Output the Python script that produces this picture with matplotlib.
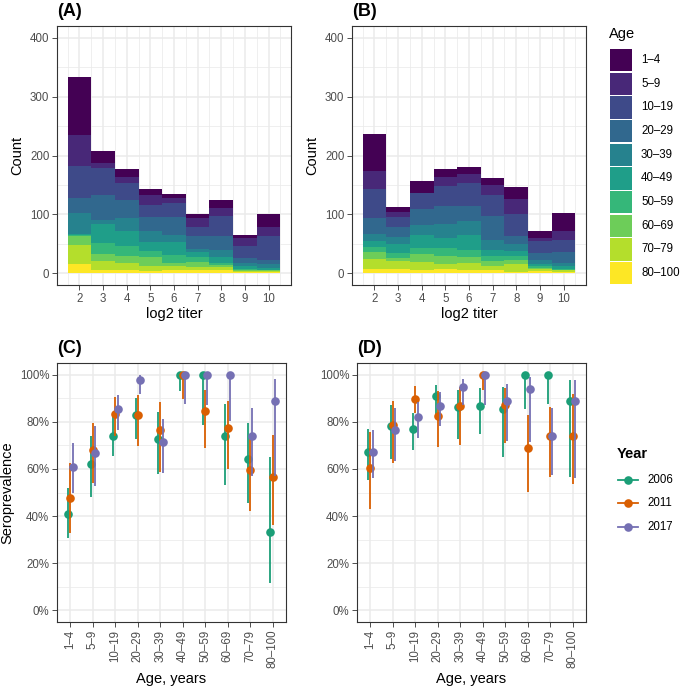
import matplotlib
matplotlib.use("Agg")
import matplotlib.pyplot as plt
from matplotlib.patches import Rectangle
from matplotlib.lines import Line2D
from matplotlib.ticker import FixedLocator
import numpy as np

plt.rcParams['font.family'] = ['Liberation Sans', 'DejaVu Sans']

# ---------------- data ----------------
titers = [2, 3, 4, 5, 6, 7, 8, 9, 10]
age_groups = ['1–4', '5–9', '10–19', '20–29', '30–39', '40–49', '50–59', '60–69', '70–79', '80–100']
age_colors = ['#440154', '#482878', '#3E4A89', '#31688E', '#26828E',
              '#1F9E89', '#35B779', '#6DCD59', '#B4DE2C', '#FDE725']

# counts per age group (rows) for each titer (columns)
counts_A = [
    [99, 20, 14, 10, 6, 6, 14, 5, 23],    # 1–4
    [52, 9, 9, 17, 9, 16, 12, 14, 15],    # 5–9
    [55, 45, 29, 20, 23, 15, 35, 20, 41], # 10–19
    [24, 42, 31, 24, 31, 21, 23, 9, 7],   # 20–29
    [36, 7, 23, 19, 12, 6, 12, 5, 6],     # 30–39
    [2, 32, 24, 16, 22, 8, 10, 5, 3],     # 40–49
    [2, 20, 17, 9, 14, 9, 4, 2, 1],       # 50–59
    [15, 12, 13, 16, 5, 8, 4, 1, 1],      # 60–69
    [32, 14, 12, 9, 7, 6, 5, 2, 2],       # 70–79
    [16, 6, 5, 3, 5, 5, 5, 2, 2],         # 80–100
]
counts_B = [
    [63, 8, 19, 13, 11, 12, 20, 11, 31],
    [31, 9, 1, 15, 16, 17, 25, 6, 15],
    [50, 16, 27, 35, 38, 35, 37, 20, 20],
    [26, 17, 27, 30, 27, 41, 15, 11, 18],
    [13, 12, 17, 24, 23, 18, 12, 7, 6],
    [9, 15, 22, 17, 26, 10, 7, 4, 4],
    [9, 9, 11, 14, 12, 9, 7, 3, 2],
    [11, 5, 13, 13, 10, 8, 8, 2, 1],
    [17, 14, 14, 8, 12, 6, 13, 4, 3],
    [8, 7, 5, 8, 5, 6, 2, 3, 2],
]

years = ['2006', '2011', '2017']
year_colors = ['#1B9E77', '#D95F02', '#7570B3']

# seroprevalence (%) and confidence limits, panel C
prevC_2006 = [41.0, 62.0, 74.2, 83.0, 72.7, 100, 100, 73.9, 64.3, 33.3]
lowC_2006 = [30.5, 48.0, 65.4, 72.7, 57.9, 93.0, 78.8, 53.2, 45.6, 11.7]
highC_2006 = [52.0, 74.2, 82.3, 90.1, 84.0, 100, 100, 87.7, 79.5, 65.0]
prevC_2011 = [47.5, 68.0, 83.2, 83.0, 76.7, 100, 84.7, 77.4, 59.5, 56.5]
lowC_2011 = [32.6, 54.0, 73.9, 69.6, 58.6, 89.8, 69.0, 60.0, 42.0, 36.4]
highC_2011 = [62.6, 79.5, 90.4, 91.5, 88.4, 100, 93.4, 88.7, 73.0, 74.6]
prevC_2017 = [61.0, 66.7, 85.5, 97.9, 71.3, 100, 100, 100, 74.2, 88.7]
lowC_2017 = [50.0, 52.7, 76.7, 92.0, 58.3, 87.6, 87.3, 80.2, 57.0, 57.0]
highC_2017 = [71.0, 78.4, 91.5, 100, 81.2, 100, 100, 100, 85.9, 98.2]

# panel D
prevD_2006 = [67.1, 78.1, 77.0, 90.8, 86.3, 86.7, 85.6, 100, 100, 88.8]
lowD_2006 = [55.2, 64.4, 68.2, 83.0, 72.9, 75.0, 65.1, 85.5, 87.7, 56.5]
highD_2006 = [77.0, 87.3, 83.8, 95.8, 93.6, 94.4, 95.0, 100, 100, 97.9]
prevD_2011 = [60.6, 78.7, 89.8, 82.6, 86.6, 100, 87.0, 68.9, 74.2, 73.9]
lowD_2011 = [43.2, 62.6, 83.8, 69.2, 70.0, 93.4, 71.0, 50.4, 56.6, 53.4]
highD_2011 = [75.5, 88.7, 95.1, 92.9, 95.0, 100, 94.4, 82.8, 86.3, 92.0]
prevD_2017 = [67.1, 76.4, 82.1, 86.9, 94.9, 100, 88.8, 93.8, 74.2, 88.8]
lowD_2017 = [56.2, 63.3, 73.2, 78.1, 87.3, 87.3, 71.8, 71.5, 57.6, 56.2]
highD_2017 = [76.4, 85.9, 88.3, 92.5, 98.3, 100, 96.2, 99.0, 85.9, 97.9]

# ---------------- layout ----------------
W, H = 682, 690
fig = plt.figure(figsize=(W / 100, H / 100), dpi=100)


def rect(l, t, r, b):
    return [l / W, 1 - b / H, (r - l) / W, (b - t) / H]


GRID = '#EBEBEB'
BORDER = '#333333'
TICKC = '#4D4D4D'
MS = 6.2


def style(ax):
    for s in ax.spines.values():
        s.set_color(BORDER)
        s.set_linewidth(0.8)
    ax.set_facecolor('white')
    ax.grid(which='major', color=GRID, linewidth=1.1, zorder=0)
    ax.grid(which='minor', color=GRID, linewidth=0.55, zorder=0)
    ax.set_axisbelow(True)
    ax.tick_params(which='major', length=3.5, width=0.6, color=BORDER,
                   labelsize=8.3, labelcolor=TICKC, pad=2)
    ax.tick_params(which='minor', length=0)


def hist_panel(ax, counts, label):
    bottom = np.zeros(len(titers))
    for i in range(len(age_groups) - 1, -1, -1):
        vals = np.array(counts[i], dtype=float)
        ax.bar(titers, vals, width=1.0, bottom=bottom, color=age_colors[i],
               linewidth=0, zorder=2)
        bottom += vals
    ax.set_xlim(1.05, 10.95)
    ax.set_ylim(-20, 420)
    ax.xaxis.set_major_locator(FixedLocator(titers))
    ax.xaxis.set_minor_locator(FixedLocator(np.arange(1.5, 11, 1.0)))
    ax.yaxis.set_major_locator(FixedLocator([0, 100, 200, 300, 400]))
    ax.yaxis.set_minor_locator(FixedLocator([50, 150, 250, 350]))
    style(ax)
    ax.set_xlabel('log2 titer', fontsize=10.5, labelpad=2)
    ax.set_ylabel('Count', fontsize=10.5, labelpad=4)
    ax.text(0.0, 1.025, label, transform=ax.transAxes, fontsize=13,
            fontweight='bold', ha='left', va='bottom')


def prev_panel(ax, prevs, lows, highs, label):
    x = np.arange(1, len(age_groups) + 1)
    offsets = [-0.1, 0.0, 0.1]
    for k in range(3):
        xx = x + offsets[k]
        ax.vlines(xx, lows[k], highs[k], color=year_colors[k], linewidth=1.3,
                  zorder=3 + k)
        ax.plot(xx, prevs[k], 'o', color=year_colors[k], markersize=MS,
                markeredgewidth=0, zorder=3 + k)
    ax.set_xlim(0.4, 10.6)
    ax.set_ylim(-5, 105)
    ax.xaxis.set_major_locator(FixedLocator(x))
    ax.set_xticklabels(age_groups, rotation=90)
    ax.yaxis.set_major_locator(FixedLocator([0, 20, 40, 60, 80, 100]))
    ax.yaxis.set_minor_locator(FixedLocator([10, 30, 50, 70, 90]))
    ax.set_yticklabels(['0%', '20%', '40%', '60%', '80%', '100%'])
    style(ax)
    ax.set_xlabel('Age, years', fontsize=10.5, labelpad=3)
    ax.text(0.0, 1.025, label, transform=ax.transAxes, fontsize=13,
            fontweight='bold', ha='left', va='bottom')


axA = fig.add_axes(rect(57, 26, 291, 285))
hist_panel(axA, counts_A, '(A)')
axB = fig.add_axes(rect(352, 26, 586, 285))
hist_panel(axB, counts_B, '(B)')

axC = fig.add_axes(rect(57, 363, 286, 622))
prev_panel(axC,
           [prevC_2006, prevC_2011, prevC_2017],
           [lowC_2006, lowC_2011, lowC_2017],
           [highC_2006, highC_2011, highC_2017], '(C)')
axC.set_ylabel('Seroprevalence', fontsize=10.5, labelpad=4)
axD = fig.add_axes(rect(357, 363, 586, 622))
prev_panel(axD,
           [prevD_2006, prevD_2011, prevD_2017],
           [lowD_2006, lowD_2011, lowD_2017],
           [highD_2006, highD_2011, highD_2017], '(D)')

# ---------------- Age legend ----------------
fig.text(609 / W, 1 - 34 / H, 'Age', fontsize=10.5, ha='left', va='center')
key_top = 48.3
key_h = 23.67
for i, (lab, col) in enumerate(zip(age_groups, age_colors)):
    y0 = key_top + i * key_h
    fig.add_artist(Rectangle((610 / W, 1 - (y0 + key_h - 0.6) / H),
                             22 / W, (key_h - 1.2) / H, transform=fig.transFigure,
                             facecolor=col, edgecolor='none'))
    fig.text(641 / W, 1 - (y0 + key_h / 2) / H, lab, fontsize=8.3,
             ha='left', va='center')

# ---------------- Year legend ----------------
fig.text(617 / W, 1 - 454 / H, 'Year', fontsize=10.5, fontweight='bold',
         ha='left', va='center')
for k, (lab, col) in enumerate(zip(years, year_colors)):
    yc = 1 - [480, 503, 527][k] / H
    fig.add_artist(Line2D([618 / W, 638 / W], [yc, yc], color=col,
                          linewidth=1.3, transform=fig.transFigure))
    fig.add_artist(Line2D([628 / W], [yc], marker='o', markersize=MS,
                          markeredgewidth=0, color=col,
                          transform=fig.transFigure))
    fig.text(647 / W, yc, lab, fontsize=8.3, ha='left', va='center')

fig.savefig('out.png', dpi=100, facecolor='white')
